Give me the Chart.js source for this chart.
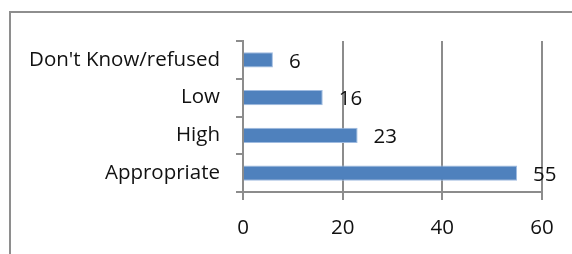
<!DOCTYPE html>
<html>
<head>
<meta charset="utf-8">
<script src="https://cdn.jsdelivr.net/npm/chart.js@4"></script>
<style>
  body { margin: 0; background: #fff; overflow: hidden; }
  #frame { position: absolute; left: 9px; top: 11px; width: 620px; height: 320px; border: 2px solid #8e8e8e; border-right: none; border-bottom: none; }
  #respChart { position: absolute; left: 0; top: 0; }
</style>
</head>
<body>
<div id="frame"></div>
<canvas id="respChart" width="572" height="254"></canvas>
<script>
const categories = ["Don't Know/refused", 'Low', 'High', 'Appropriate'];
const responses = [6, 16, 23, 55];
const xTicks = [0, 20, 40, 60];

const axisGray = '#8c8c8c';
const fontFamily = "'Open Sans', 'Noto Sans', sans-serif";
const fontSize = 20.5;

// values printed just right of each bar
const barValues = {
    id: 'barValues',
    afterDatasetsDraw(chart) {
        const ctx = chart.ctx;
        const meta = chart.getDatasetMeta(0);
        ctx.save();
        ctx.font = fontSize + 'px ' + fontFamily;
        ctx.fillStyle = '#111';
        ctx.textAlign = 'left';
        ctx.textBaseline = 'middle';
        meta.data.forEach((bar, i) => {
            ctx.fillText(responses[i], bar.x + 16, bar.y + 2);
        });
        ctx.restore();
    }
};

document.addEventListener('DOMContentLoaded', () => {
    const ctx = document.getElementById('respChart').getContext('2d');
    new Chart(ctx, {
        type: 'bar',
        data: {
            labels: categories,
            datasets: [{
                data: responses,
                backgroundColor: '#4F81BD',
                borderColor: '#9fbbe0',
                borderWidth: 1,
                categoryPercentage: 0.8,
                barPercentage: 0.5
            }]
        },
        options: {
            indexAxis: 'y',
            responsive: false,
            animation: false,
            layout: { padding: { top: 41, right: 30, left: 0, bottom: 0 } },
            plugins: { legend: { display: false }, tooltip: { enabled: false } },
            scales: {
                x: {
                    min: xTicks[0],
                    max: xTicks[xTicks.length - 1],
                    afterBuildTicks: scale => { scale.ticks = xTicks.map(v => ({ value: v })); },
                    afterFit: scale => { scale.height = 62; },
                    grid: { color: axisGray, lineWidth: 2, tickLength: 8, drawTicks: true },
                    border: { color: axisGray, width: 2 },
                    ticks: { color: '#111', padding: 16, font: { family: fontFamily, size: fontSize } }
                },
                y: {
                    afterFit: scale => { scale.width = 243; },
                    grid: { drawOnChartArea: false, drawTicks: true, tickLength: 7, color: axisGray, lineWidth: 2 },
                    border: { color: axisGray, width: 2 },
                    ticks: { color: '#111', padding: 16, font: { family: fontFamily, size: fontSize } }
                }
            }
        },
        plugins: [barValues]
    });
});
</script>
</body>
</html>
